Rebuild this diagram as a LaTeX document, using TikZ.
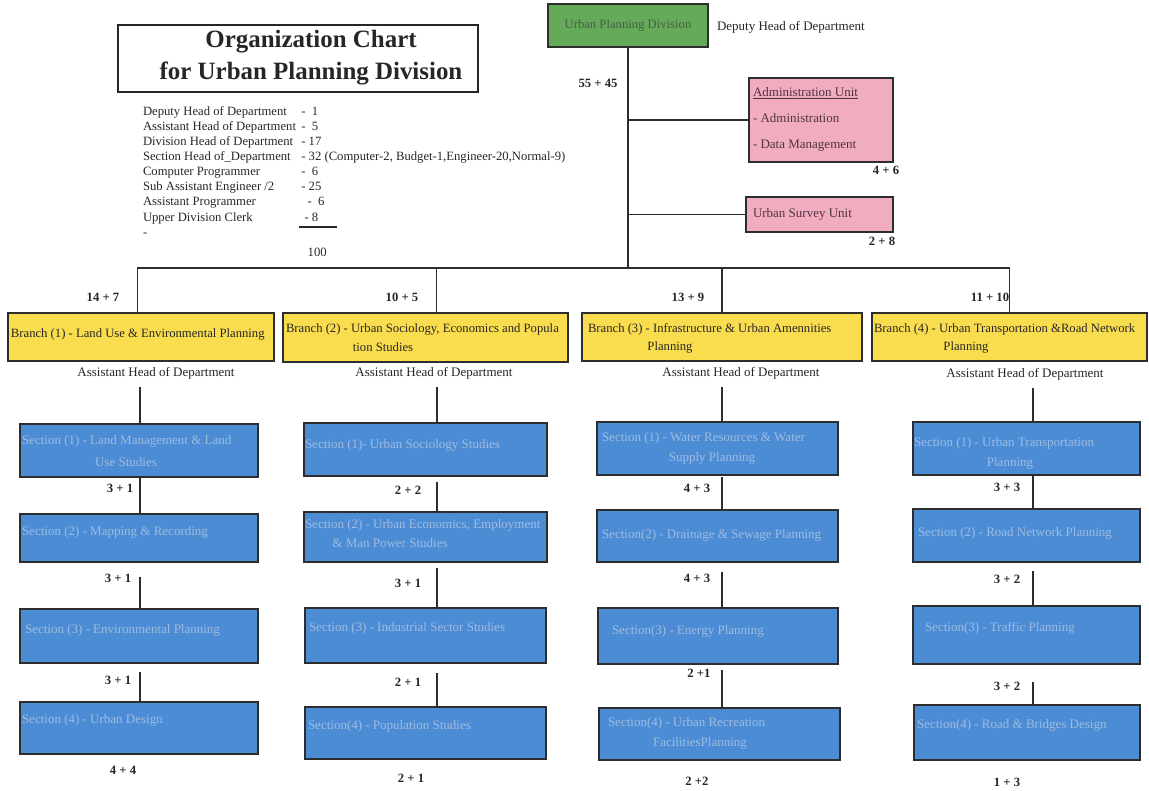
\documentclass[tikz,border=0pt]{standalone}
\usepackage{fontspec}
\setmainfont{Liberation Serif}
\usetikzlibrary{fit}

\definecolor{unitgreen}{RGB}{100,170,88}
\definecolor{greentext}{RGB}{70,96,70}
\definecolor{unitpink}{RGB}{242,172,192}
\definecolor{pinktext}{RGB}{80,52,64}
\definecolor{branchyellow}{RGB}{250,221,78}
\definecolor{sectionblue}{RGB}{76,140,213}
\definecolor{sectiontext}{RGB}{158,188,224}
\definecolor{inkgrey}{RGB}{45,45,45}

\begin{document}
\begin{tikzpicture}[x=0.75pt,y=-0.75pt,
  every node/.style={inner sep=0pt,outer sep=0pt},
  plain/.style={font=\fontsize{9.75}{11.5}\selectfont,text=black!85},
  count/.style={font=\bfseries\fontsize{9.5}{11}\selectfont,text=black!85},
  frame/.style={draw=inkgrey,line width=1.1pt},
  unitbox/.style={frame,fill=unitpink},
  branchbox/.style={frame,fill=branchyellow},
  branchtext/.style={font=\fontsize{9.5}{13}\selectfont,text=black!85,align=center},
  sectionbox/.style={frame,fill=sectionblue},
  sectiontxt/.style={font=\fontsize{9.75}{15.5}\selectfont,text=sectiontext,align=center},
  link/.style={draw=inkgrey,line width=1pt}]

\useasboundingbox (0,0) rectangle (1149,791);

% ---- title and staff summary ----
\node[draw=black!85,line width=1pt,fit={(118,25) (478,92)}] (titlebox) {};
\node[font=\bfseries\fontsize{18.7}{24}\selectfont,align=center,text=black!85]
  (title) at (311,58) {Organization Chart\\for Urban Planning Division};

\node[anchor=north west,font=\fontsize{9.5}{11.3}\selectfont,text=black!85] (staff) at (143,105) {%
  \begin{tabular}{@{}l@{\hspace{4pt}}l@{}}
  Deputy Head of  Department    & -\ \ 1\\
  Assistant Head of  Department & -\ \ 5\\
  Division  Head of  Department & - 17\\
  Section  Head of\_Department  & - 32 (Computer-2, Budget-1,Engineer-20,Normal-9)\\
  Computer Programmer           & -\ \ 6\\
  Sub Assistant Engineer /2     & - 25\\
  Assistant Programmer          & \ \ -\ \ 6\\
  Upper Division Clerk          & \ - 8\\
  -                             & \\[4pt]
                                & \ \ 100
  \end{tabular}};
\draw[line width=1.1pt,draw=black!85] (299,227) -- (337,227);

% ---- division head and units ----
\node[frame,fill=unitgreen,fit={(548,4) (708,47)}] (top) {};
\node[font=\fontsize{9.5}{11}\selectfont,text=greentext] (toptext) at (top.center) {Urban Planning Division};
\node[plain,anchor=west] (deputy) at (717,27) {Deputy Head of  Department};
\node[count] (c0) at (598,83) {55 + 45};

\node[unitbox,fit={(749,78) (893,162)}] (admin) {};
\node[plain,anchor=west,text=pinktext] (admin1) at (753,93) {\underline{Administration Unit}};
\node[plain,anchor=west,text=pinktext] (admin2) at (753,118) {- Administration};
\node[plain,anchor=west,text=pinktext] (admin3) at (753,146) {- Data Management};
\node[count] (c0a) at (886,170) {4 + 6};

\node[unitbox,fit={(746,197) (893,232)}] (survey) {};
\node[plain,anchor=west,text=pinktext] (survey1) at (753,214) {Urban Survey Unit};
\node[count] (c0b) at (882,241) {2 + 8};

\coordinate (bus) at (628,268);
\draw[link] (top.south) -- (bus);
\draw[link] (admin.west -| top.south) -- (admin.west);
\draw[link] (survey.west -| top.south) -- (survey.west);

% ---- branches ----
\node[branchbox,fit={(8,313) (274,361)}] (b1) {};
\node[branchbox,fit={(283,313) (568,362)}] (b2) {};
\node[branchbox,fit={(582,313) (862,361)}] (b3) {};
\node[branchbox,fit={(872,313) (1147,361)}] (b4) {};

\node[branchtext,anchor=west] (b1t) at (11,334) {Branch (1)  - Land Use \& Environmental Planning};
\node[branchtext,anchor=west] (b2t) at (286,329) {Branch (2) - Urban Sociology, Economics and Popula};
\node[branchtext] (b2u) at (383,347) {tion  Studies};
\node[branchtext,anchor=west] (b3t) at (588,329) {Branch (3) - Infrastructure \& Urban Amennities};
\node[branchtext] (b3u) at (670,347) {Planning};
\node[branchtext,anchor=west] (b4t) at (874,329) {Branch (4) - Urban Transportation \&Road Network};
\node[branchtext] (b4u) at (966,347) {Planning};

\node[count] (n1) at (103,297) {14 + 7};
\node[count] (n2) at (402,297) {10 + 5};
\node[count] (n3) at (688,297) {13 + 9};
\node[count] (n4) at (990,297) {11 + 10};

\draw[link] ([xshift=-2.5pt]b1.north) |- (bus) -| (b4.north);
\draw[link] ([xshift=8.25pt]b2.north) -- ([xshift=8.25pt]b2.north |- bus);
\draw[link] (b3.north) -- (b3.north |- bus);

\node[plain] (ah1) at (156,373) {Assistant Head of  Department};
\node[plain] (ah2) at (434,373) {Assistant Head of  Department};
\node[plain] (ah3) at (741,373) {Assistant Head of  Department};
\node[plain] (ah4) at (1025,374) {Assistant Head of  Department};

% ---- sections, column 1 ----
\coordinate (x1) at (140,0);
\node[sectionbox,fit={(20,424) (258,477)}] (s11) {};
\node[sectionbox,fit={(20,514) (258,562)}] (s12) {};
\node[sectionbox,fit={(20,609) (258,663)}] (s13) {};
\node[sectionbox,fit={(20,702) (258,754)}] (s14) {};
\node[sectiontxt,anchor=west] (s11t) at (22,441) {Section (1) - Land Management \& Land};
\node[sectiontxt] (s11u) at (126,462) {Use Studies};
\node[sectiontxt,anchor=west] (s12t) at (22,532) {Section (2)  - Mapping \& Recording};
\node[sectiontxt,anchor=west] (s13t) at (25,630) {Section (3)  - Environmental Planning};
\node[sectiontxt,anchor=west] (s14t) at (22,720) {Section (4)  - Urban Design};
\node[count] (k11) at (120,488) {3 + 1};
\node[count] (k12) at (118,578) {3 + 1};
\node[count] (k13) at (118,680) {3 + 1};
\node[count] (k14) at (123,770) {4 + 4};
\draw[link] ([yshift=-6pt]ah1.south -| x1) -- (s11.north -| x1);
\draw[link] (s11.south -| x1) -- (s12.north -| x1);
\draw[link,shorten <=11pt] (s12.south -| x1) -- (s13.north -| x1);
\draw[link,shorten <=7pt] (s13.south -| x1) -- (s14.north -| x1);

% ---- sections, column 2 ----
\coordinate (x2) at (437,0);
\node[sectionbox,fit={(304,423) (547,476)}] (s21) {};
\node[sectionbox,fit={(304,512) (547,562)}] (s22) {};
\node[sectionbox,fit={(305,608) (546,663)}] (s23) {};
\node[sectionbox,fit={(305,707) (546,759)}] (s24) {};
\node[sectiontxt,anchor=west] (s21t) at (305,445) {Section (1)- Urban Sociology Studies};
\node[sectiontxt,anchor=west] (s22t) at (305,525) {Section (2)  - Urban Economics, Employment};
\node[sectiontxt] (s22u) at (390,543) {\& Man Power Studies};
\node[sectiontxt,anchor=west] (s23t) at (309,628) {Section (3)  - Industrial Sector Studies};
\node[sectiontxt,anchor=west] (s24t) at (308,726) {Section(4)  - Population Studies};
\node[count] (k21) at (408,490) {2 + 2};
\node[count] (k22) at (408,583) {3 + 1};
\node[count] (k23) at (408,682) {2 + 1};
\node[count] (k24) at (411,778) {2 + 1};
\draw[link] ([yshift=-6pt]ah2.south -| x2) -- (s21.north -| x2);
\draw[link,shorten <=4.5pt] (s21.south -| x2) -- (s22.north -| x2);
\draw[link,shorten <=4.5pt] (s22.south -| x2) -- (s23.north -| x2);
\draw[link,shorten <=7.5pt] (s23.south -| x2) -- (s24.north -| x2);

% ---- sections, column 3 ----
\coordinate (x3) at (722,0);
\node[sectionbox,fit={(597,422) (838,475)}] (s31) {};
\node[sectionbox,fit={(597,510) (838,562)}] (s32) {};
\node[sectionbox,fit={(598,608) (838,664)}] (s33) {};
\node[sectionbox,fit={(599,708) (840,760)}] (s34) {};
\node[sectiontxt,anchor=west] (s31t) at (602,438) {Section (1) - Water Resources \& Water};
\node[sectiontxt] (s31u) at (712,458) {Supply Planning};
\node[sectiontxt,anchor=west] (s32t) at (602,535) {Section(2) - Drainage \& Sewage Planning};
\node[sectiontxt,anchor=west] (s33t) at (612,631) {Section(3)  - Energy Planning};
\node[sectiontxt,anchor=west] (s34t) at (608,723) {Section(4)  - Urban Recreation};
\node[sectiontxt] (s34u) at (700,743) {FacilitiesPlanning};
\node[count] (k31) at (697,488) {4 + 3};
\node[count] (k32) at (697,578) {4 + 3};
\node[count] (k33) at (699,673) {2 +1};
\node[count] (k34) at (697,781) {2 +2};
\draw[link] ([yshift=-6pt]ah3.south -| x3) -- (s31.north -| x3);
\draw[link,shorten <=1.5pt] (s31.south -| x3) -- (s32.north -| x3);
\draw[link,shorten <=7.5pt] (s32.south -| x3) -- (s33.north -| x3);
\draw[link,shorten <=4.5pt] (s33.south -| x3) -- (s34.north -| x3);

% ---- sections, column 4 ----
\coordinate (x4) at (1033,0);
\node[sectionbox,fit={(913,422) (1140,475)}] (s41) {};
\node[sectionbox,fit={(913,509) (1140,562)}] (s42) {};
\node[sectionbox,fit={(913,606) (1140,664)}] (s43) {};
\node[sectionbox,fit={(914,705) (1140,760)}] (s44) {};
\node[sectiontxt,anchor=west] (s41t) at (914,443) {Section (1)  - Urban Transportation};
\node[sectiontxt] (s41u) at (1010,463) {Planning};
\node[sectiontxt,anchor=west] (s42t) at (918,533) {Section (2)  - Road Network Planning};
\node[sectiontxt,anchor=west] (s43t) at (925,628) {Section(3)  - Traffic Planning};
\node[sectiontxt,anchor=west] (s44t) at (917,725) {Section(4)  - Road \& Bridges Design};
\node[count] (k41) at (1007,487) {3 + 3};
\node[count] (k42) at (1007,579) {3 + 2};
\node[count] (k43) at (1007,686) {3 + 2};
\node[count] (k44) at (1007,782) {1 + 3};
\draw[link] ([yshift=-6pt]ah4.south -| x4) -- (s41.north -| x4);
\draw[link] (s41.south -| x4) -- (s42.north -| x4);
\draw[link,shorten <=6.75pt] (s42.south -| x4) -- (s43.north -| x4);
\draw[link,shorten <=13.5pt] (s43.south -| x4) -- (s44.north -| x4);

\end{tikzpicture}
\end{document}
